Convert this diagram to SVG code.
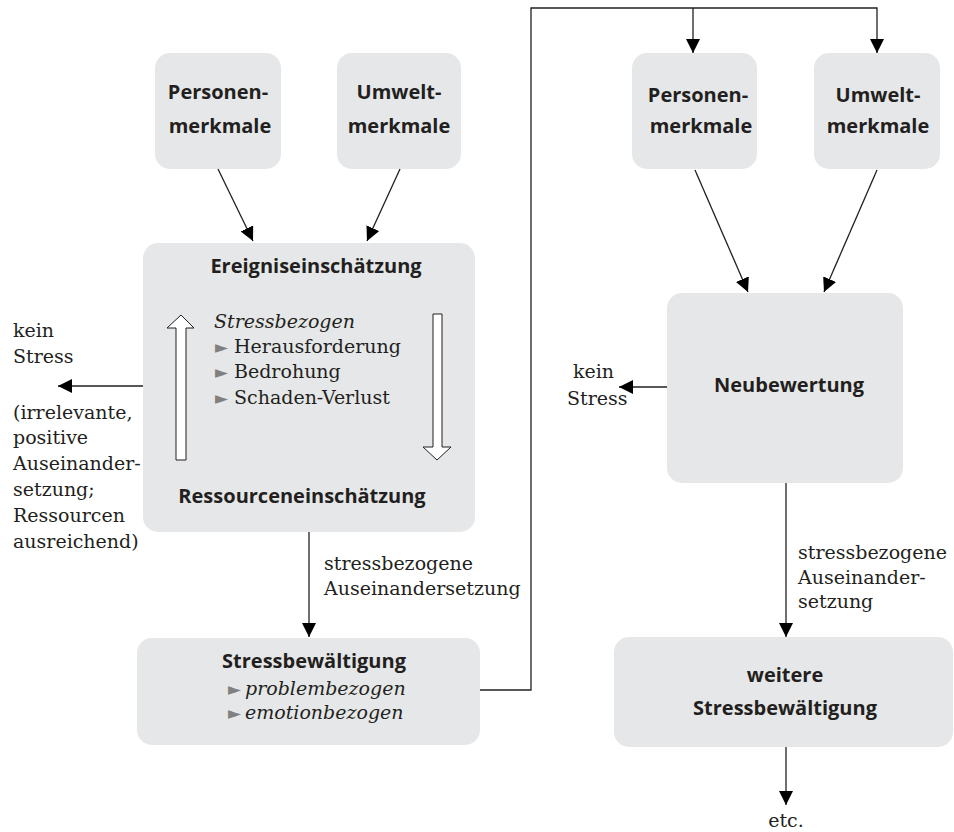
<svg xmlns="http://www.w3.org/2000/svg" width="954" height="832" viewBox="0 0 954 832">
<defs>
<marker id="ah" markerUnits="userSpaceOnUse" markerWidth="14" markerHeight="14" viewBox="0 0 14 14" refX="14" refY="7" orient="auto">
<path d="M0,0 L14,7 L0,14 z" fill="#000"/>
</marker>
<style>
.box{fill:#e6e7e8;}
.h{font-family:"Open Sans","DejaVu Sans",sans-serif;font-weight:bold;font-size:20px;fill:#231f20;text-anchor:middle;}
.s{font-family:"DejaVu Serif","Liberation Serif",serif;font-size:19px;fill:#231f20;}
.i{font-style:italic;}
.b{font-family:"DejaVu Sans",sans-serif;font-size:17px;fill:#808080;font-style:normal;}
.c{fill:none;stroke:#231f20;stroke-width:1.3;}
.oa{fill:#fff;stroke:#231f20;stroke-width:1;}
</style>
</defs>
<rect width="954" height="832" fill="#fff"/>

<g id="personen1">
<rect class="box" x="155" y="53" width="126" height="116" rx="15"/>
<text class="h" x="218" y="99">Personen-</text>
<text class="h" x="220" y="133">merkmale</text>
</g>
<g id="umwelt1">
<rect class="box" x="337" y="53" width="124" height="116" rx="15"/>
<text class="h" x="399" y="99">Umwelt-</text>
<text class="h" x="399" y="133">merkmale</text>
</g>
<g id="einschaetzung">
<rect class="box" x="143" y="243" width="332" height="289" rx="15"/>
<text class="h" x="316" y="273">Ereigniseinschätzung</text>
<text class="s i" x="214" y="328">Stressbezogen</text>
<text class="s" x="215" y="353"><tspan class="b">►</tspan><tspan x="234">Herausforderung</tspan></text>
<text class="s" x="215" y="378"><tspan class="b">►</tspan><tspan x="234">Bedrohung</tspan></text>
<text class="s" x="215" y="404"><tspan class="b">►</tspan><tspan x="234">Schaden-Verlust</tspan></text>
<polygon class="oa" points="176,460 186,460 186,328 194,328 181,315 167,328 176,328"/>
<polygon class="oa" points="433,314 442,314 442,447 451,447 437,460 423,447 433,447"/>
<text class="h" x="302" y="503">Ressourceneinschätzung</text>
</g>
<g id="bewaeltigung">
<rect class="box" x="137" y="638" width="343" height="107" rx="15"/>
<text class="h" x="314" y="668">Stressbewältigung</text>
<text class="s i" x="228" y="695"><tspan class="b">►</tspan><tspan x="245">problembezogen</tspan></text>
<text class="s i" x="228" y="719"><tspan class="b">►</tspan><tspan x="245">emotionbezogen</tspan></text>
</g>
<g id="personen2">
<rect class="box" x="632" y="53" width="125" height="116" rx="15"/>
<text class="h" x="698" y="102">Personen-</text>
<text class="h" x="701" y="133">merkmale</text>
</g>
<g id="umwelt2">
<rect class="box" x="814" y="53" width="126" height="116" rx="15"/>
<text class="h" x="878" y="102">Umwelt-</text>
<text class="h" x="878" y="133">merkmale</text>
</g>
<g id="neubewertung">
<rect class="box" x="667" y="293" width="236" height="190" rx="15"/>
<text class="h" x="789" y="392">Neubewertung</text>
</g>
<g id="weitere">
<rect class="box" x="614" y="637" width="339" height="110" rx="15"/>
<text class="h" x="785" y="682">weitere</text>
<text class="h" x="785" y="715">Stressbewältigung</text>
</g>

<g id="labels">
<text class="s" x="13" y="337">kein</text>
<text class="s" x="13" y="363">Stress</text>
<text class="s" x="13" y="419">(irrelevante,</text>
<text class="s" x="13" y="444">positive</text>
<text class="s" x="13" y="470">Auseinander-</text>
<text class="s" x="13" y="496">setzung;</text>
<text class="s" x="13" y="522">Ressourcen</text>
<text class="s" x="13" y="548">ausreichend)</text>
<text class="s" x="324" y="570">stressbezogene</text>
<text class="s" x="324" y="595">Auseinandersetzung</text>
<text class="s" x="573" y="378">kein</text>
<text class="s" x="567" y="405">Stress</text>
<text class="s" x="798" y="559">stressbezogene</text>
<text class="s" x="798" y="584">Auseinander-</text>
<text class="s" x="798" y="608">setzung</text>
<text class="s" x="786" y="827" text-anchor="middle">etc.</text>
</g>

<g id="connectors">
<line class="c" x1="218" y1="169" x2="253" y2="241" marker-end="url(#ah)"/>
<line class="c" x1="400" y1="169" x2="367" y2="241" marker-end="url(#ah)"/>
<line class="c" x1="143" y1="386" x2="58" y2="386" marker-end="url(#ah)"/>
<line class="c" x1="309" y1="532" x2="309" y2="637" marker-end="url(#ah)"/>
<path class="c" d="M480,690 H531 V8 H877 V53" marker-end="url(#ah)"/>
<line class="c" x1="693" y1="8" x2="693" y2="53" marker-end="url(#ah)"/>
<line class="c" x1="695" y1="170" x2="748" y2="292" marker-end="url(#ah)"/>
<line class="c" x1="877" y1="170" x2="824" y2="292" marker-end="url(#ah)"/>
<line class="c" x1="667" y1="387" x2="619" y2="387" marker-end="url(#ah)"/>
<line class="c" x1="786" y1="483" x2="786" y2="637" marker-end="url(#ah)"/>
<line class="c" x1="786" y1="747" x2="786" y2="805" marker-end="url(#ah)"/>
</g>
</svg>
